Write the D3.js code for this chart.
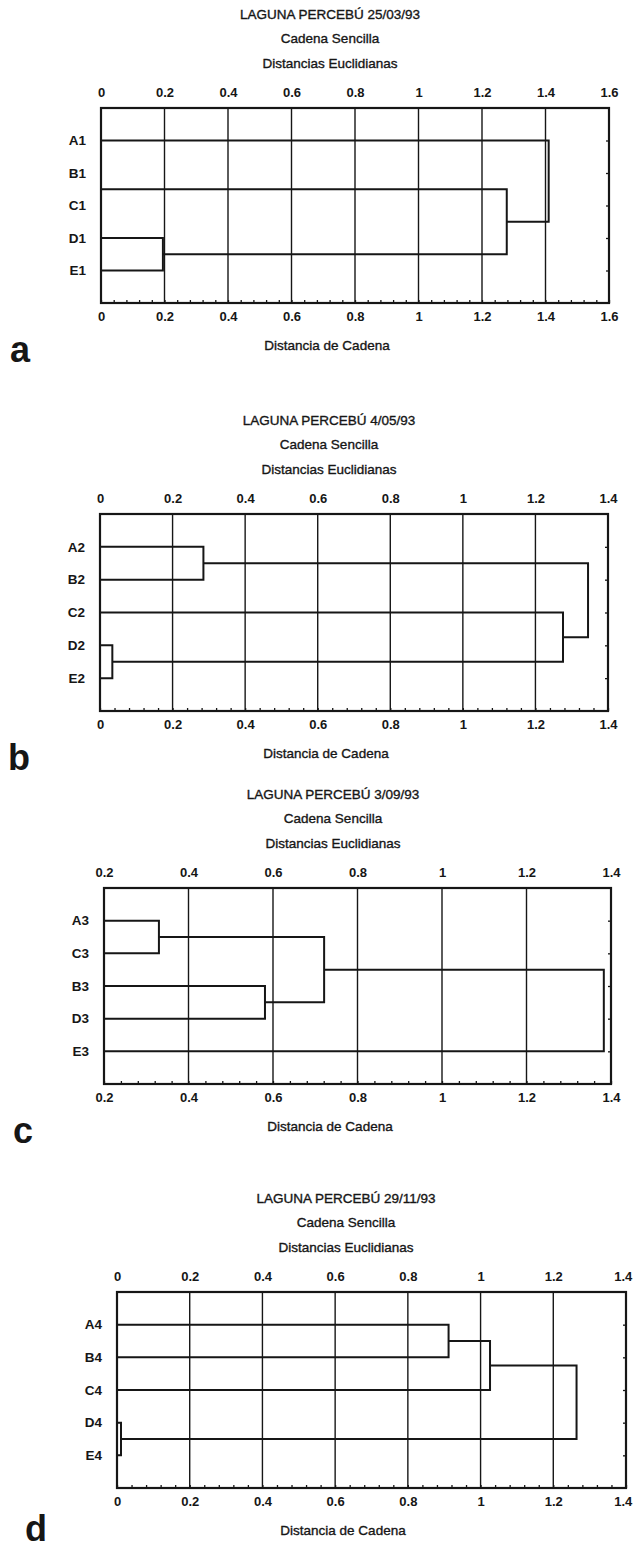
<!DOCTYPE html>
<html>
<head>
<meta charset="utf-8">
<title>Laguna Percebú - dendrogramas</title>
<script src="https://d3js.org/d3.v7.min.js"></script>
<style>
  body { margin: 0; background: #fff; }
  svg { display: block; }
  text { font-family: "Liberation Sans", Arial, Helvetica, sans-serif; fill: #161616; }
</style>
</head>
<body>
<svg id="canvas"></svg>
<script>
// ---- data, one block per panel ----
var titles = ["LAGUNA PERCEBÚ 25/03/93", "LAGUNA PERCEBÚ 4/05/93", "LAGUNA PERCEBÚ 3/09/93", "LAGUNA PERCEBÚ 29/11/93"];
var subtitle1 = "Cadena Sencilla";
var subtitle2 = "Distancias Euclidianas";
var xTitle = "Distancia de Cadena";
var panelLetters = ["a", "b", "c", "d"];

// leaves from top to bottom
var leavesA = ["A1", "B1", "C1", "D1", "E1"];
var leavesB = ["A2", "B2", "C2", "D2", "E2"];
var leavesC = ["A3", "C3", "B3", "D3", "E3"];
var leavesD = ["A4", "B4", "C4", "D4", "E4"];

// merges: [node, node, linkage distance]; merged nodes are called m0, m1, ...
var mergesA = [["B1", "C1", 0], ["D1", "E1", 0.195], ["m0", "m1", 1.278], ["A1", "m2", 1.41]];
var mergesB = [["A2", "B2", 0.285], ["D2", "E2", 0.034], ["C2", "m1", 1.276], ["m0", "m2", 1.345]];
var mergesC = [["A3", "C3", 0.33], ["B3", "D3", 0.581], ["m0", "m1", 0.721], ["m2", "E3", 1.383]];
var mergesD = [["A4", "B4", 0.912], ["m0", "C4", 1.026], ["D4", "E4", 0.011], ["m1", "m2", 1.264]];

var xDomains = [[0, 1.6], [0, 1.4], [0.2, 1.4], [0, 1.4]];
var ticksA = [0, 0.2, 0.4, 0.6, 0.8, 1, 1.2, 1.4, 1.6];
var ticksB = [0, 0.2, 0.4, 0.6, 0.8, 1, 1.2, 1.4];
var ticksC = [0.2, 0.4, 0.6, 0.8, 1, 1.2, 1.4];
var ticksD = [0, 0.2, 0.4, 0.6, 0.8, 1, 1.2, 1.4];

// ---- layout of each plot box (pixels) ----
var boxes = [
  { left: 101, right: 609, top: 108, bottom: 303 },
  { left: 100, right: 608, top: 514, bottom: 711 },
  { left: 104, right: 611, top: 888, bottom: 1084 },
  { left: 117, right: 626, top: 1292, bottom: 1488 }
];

var width = 634, height = 1551;
var ink = "#161616";

var svg = d3.select("#canvas")
  .attr("width", width)
  .attr("height", height);

var panels = [
  { leaves: leavesA, merges: mergesA, ticks: ticksA },
  { leaves: leavesB, merges: mergesB, ticks: ticksB },
  { leaves: leavesC, merges: mergesC, ticks: ticksC },
  { leaves: leavesD, merges: mergesD, ticks: ticksD }
];

panels.forEach(function (p, k) {
  var b = boxes[k];
  var g = svg.append("g").attr("class", "panel");
  var fmt = d3.format("~g");

  var x = d3.scaleLinear().domain(xDomains[k]).range([b.left, b.right]).clamp(true);
  var y = d3.scaleLinear().domain([0, 6]).range([b.top, b.bottom]);

  // titles (scanned look: thin outline to thicken the glyphs)
  var cx = b.left + 229;
  [titles[k], subtitle1, subtitle2].forEach(function (t, i) {
    g.append("text")
      .attr("x", cx)
      .attr("y", b.top - 94 + i * 24.5)
      .attr("dy", "0.35em")
      .attr("text-anchor", "middle")
      .attr("stroke", ink)
      .attr("stroke-width", 0.35)
      .style("font-size", "13.5px")
      .text(t);
  });

  // vertical grid
  g.append("g").selectAll("line")
    .data(p.ticks)
    .enter().append("line")
    .attr("x1", function (d) { return x(d); })
    .attr("x2", function (d) { return x(d); })
    .attr("y1", b.top)
    .attr("y2", b.bottom)
    .attr("stroke", ink)
    .attr("stroke-width", 1.4);

  // minor ticks on the bottom edge, inward
  var minor = d3.range(xDomains[k][0], xDomains[k][1] + 1e-9, 0.04);
  g.append("g")
    .attr("transform", "translate(0," + b.bottom + ")")
    .call(d3.axisBottom(x).tickValues(minor).tickSize(-3).tickFormat(""))
    .call(function (s) { s.select(".domain").remove(); })
    .selectAll("line").attr("stroke", ink).attr("stroke-width", 1.3);

  // row ticks on the right edge, inward
  g.append("g")
    .attr("transform", "translate(" + b.right + ",0)")
    .call(d3.axisLeft(y).tickValues([1, 2, 3, 4, 5]).tickSize(3).tickFormat(""))
    .call(function (s) { s.select(".domain").remove(); })
    .selectAll("line").attr("stroke", ink).attr("stroke-width", 1.3);

  // top and bottom tick labels
  var topAxis = g.append("g")
    .attr("transform", "translate(0," + b.top + ")")
    .call(d3.axisTop(x).tickValues(p.ticks).tickSize(0).tickPadding(11).tickFormat(fmt));
  var botAxis = g.append("g")
    .attr("transform", "translate(0," + b.bottom + ")")
    .call(d3.axisBottom(x).tickValues(p.ticks).tickSize(0).tickPadding(9).tickFormat(fmt));
  [topAxis, botAxis].forEach(function (a) {
    a.select(".domain").remove();
    a.selectAll("text")
      .style("font-size", "13px")
      .style("font-weight", "bold")
      .attr("fill", ink)
      .each(function () {
        // keep labels at the right edge inside the page
        var bb = this.getBBox();
        var tx = this.parentNode.transform.baseVal.consolidate().matrix.e;
        var over = tx + bb.x + bb.width - (width - 1);
        if (over > 0) d3.select(this).attr("x", -over);
      });
  });

  // row labels
  var rowScale = d3.scalePoint().domain(p.leaves).range([y(1), y(5)]);
  var leftAxis = g.append("g")
    .attr("transform", "translate(" + b.left + ",0)")
    .call(d3.axisLeft(rowScale).tickSize(0).tickPadding(15));
  leftAxis.select(".domain").remove();
  leftAxis.selectAll("text")
    .style("font-size", "13.5px")
    .style("font-weight", "bold")
    .attr("fill", ink);

  // dendrogram links
  var nodes = {};
  p.leaves.forEach(function (name) {
    nodes[name] = { y: rowScale(name), h: 0 };
  });
  var links = [];
  p.merges.forEach(function (m, i) {
    var a = nodes[m[0]], c = nodes[m[1]];
    links.push({ a: a, c: c, h: m[2] });
    nodes["m" + i] = { y: (a.y + c.y) / 2, h: m[2] };
  });
  g.append("g").selectAll("path")
    .data(links)
    .enter().append("path")
    .attr("d", function (d) {
      return "M" + x(d.a.h) + "," + d.a.y +
        "H" + x(d.h) + "V" + d.c.y + "H" + x(d.c.h);
    })
    .attr("fill", "none")
    .attr("stroke", ink)
    .attr("stroke-width", 2);

  // frame
  g.append("rect")
    .attr("x", b.left)
    .attr("y", b.top)
    .attr("width", b.right - b.left)
    .attr("height", b.bottom - b.top)
    .attr("fill", "none")
    .attr("stroke", ink)
    .attr("stroke-width", 2.2);

  // x title
  g.append("text")
    .attr("x", b.left + 226)
    .attr("y", b.bottom + 42)
    .attr("dy", "0.35em")
    .attr("text-anchor", "middle")
    .attr("stroke", ink)
    .attr("stroke-width", 0.35)
    .style("font-size", "13.5px")
    .text(xTitle);

  // panel letter
  g.append("text")
    .attr("x", b.left - 81)
    .attr("y", Math.min(b.bottom + 59, height - 10))
    .attr("text-anchor", "middle")
    .style("font-size", "36px")
    .style("font-weight", "bold")
    .text(panelLetters[k]);
});
</script>
</body>
</html>
